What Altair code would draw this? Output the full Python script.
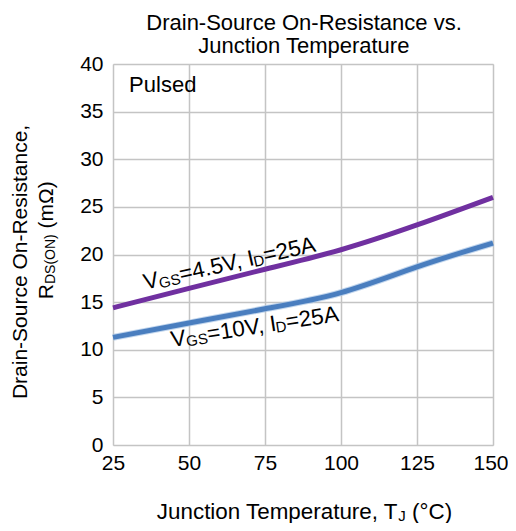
import altair as alt
import pandas as pd

# ---- data ----
temps = [25, 50, 75, 100, 125, 150]
rds_vgs45 = [14.4, 16.45, 18.45, 20.5, 23.1, 26.0]
rds_vgs10 = [11.3, 12.8, 14.3, 16.0, 18.7, 21.2]
series_names = ["VGS=4.5V", "VGS=10V"]
x_ticks = [25, 50, 75, 100, 125, 150]
y_ticks = [0, 5, 10, 15, 20, 25, 30, 35, 40]

FONT = "Liberation Sans"
W, H = 380, 381
PURPLE = "#7030a0"
BLUE = "#4a7ebf"

rows = []
for t, a, b in zip(temps, rds_vgs45, rds_vgs10):
    rows.append({"T": t, "R": a, "s": series_names[0]})
    rows.append({"T": t, "R": b, "s": series_names[1]})
df = pd.DataFrame(rows)

# Arial / Liberation Sans advance widths (per em) and a few kerning pairs
AW = {
    "V": .667, "G": .778, "S": .667, "=": .584, "4": .556, ".": .278, "5": .556,
    ",": .278, " ": .278, "I": .278, "D": .722, "2": .556, "A": .667,
    "1": .556, "0": .556, "R": .722, "(": .333, "O": .778, "N": .722, ")": .333,
    "m": .833, "Ω": .768, "J": .5, "T": .611, "°": .4, "C": .722, "u": .556,
    "n": .556, "c": .5, "t": .278, "i": .222, "o": .556, "e": .556, "p": .556,
    "r": .333, "a": .556, "s": .5, "v": .5, "-": .333, "l": .222, "d": .556,
    "P": .667,
}
KERN = {"Te": -.111, "V,": -.135, "Vo": -.074}


def tw(s, fs):
    w = sum(AW.get(ch, .556) for ch in s)
    w += sum(KERN.get(s[i:i + 2], 0) for i in range(len(s) - 1))
    return w * fs


def rich_text(xenc, yenc, angle, segments, align="left", color="black"):
    """segments: list of (text, fontSize, baselineShift); dx/dy act in the
    text's own (rotated) frame. Leading spaces become a plain offset."""
    total = sum(tw(s, fs) for s, fs, _ in segments)
    cur = -total / 2 if align == "center" else 0.0
    layers = []
    for s, fs, sh in segments:
        body = s.lstrip(" ")
        cur += (len(s) - len(body)) * AW[" "] * fs
        layers.append(
            alt.Chart(pd.DataFrame({"t": [body]}))
            .mark_text(align="left", baseline="alphabetic", font=FONT,
                       fontSize=fs, angle=angle % 360, dx=cur, dy=sh,
                       color=color)
            .encode(x=xenc, y=yenc, text="t:N")
        )
        cur += tw(body, fs)
    return layers


xscale = alt.Scale(domain=[25, 150], nice=False, zero=False)
yscale = alt.Scale(domain=[0, 40], nice=False)

halo = alt.Chart(df[df.s == series_names[1]]).mark_line(
    interpolate="natural", strokeWidth=7, color="#a8c4e6", opacity=0.7
).encode(
    x=alt.X("T:Q", scale=xscale),
    y=alt.Y("R:Q", scale=yscale),
)

last_x = x_ticks[-1]
lines = alt.Chart(df).mark_line(interpolate="natural", strokeWidth=5).encode(
    x=alt.X("T:Q", scale=xscale,
            axis=alt.Axis(values=x_ticks, title=None, grid=True, ticks=False,
                          tickSize=0, domain=False, labelFontSize=21,
                          labelFont=FONT, labelColor="black", labelPadding=7,
                          gridColor="#c4c4c4", gridWidth=1.5,
                          labelFlush=False,
                          labelAlign={"condition": {"test": f"datum.value == {last_x}",
                                                    "value": "right"},
                                      "value": "center"},
                          labelOffset={"condition": {"test": f"datum.value == {last_x}",
                                                     "value": 15},
                                       "value": 0})),
    y=alt.Y("R:Q", scale=yscale,
            axis=alt.Axis(values=y_ticks, title=None, grid=True, ticks=False,
                          tickSize=0, domain=False, labelFontSize=21,
                          labelFont=FONT, labelColor="black", labelPadding=10,
                          gridColor="#c4c4c4", gridWidth=1.5,
                          labelFlush=False)),
    color=alt.Color("s:N", scale=alt.Scale(domain=series_names,
                                           range=[PURPLE, BLUE]), legend=None),
    detail="s:N",
)

SUB = 14
LSUB = 15
layers = [halo, lines]

# "Pulsed"
layers += rich_text(alt.datum(30.3), alt.datum(37.05), 0, [("Pulsed", 22, 0)])

# curve labels
layers += rich_text(alt.datum(35.6), alt.datum(16.3), -12.7,
                    [("V", 22.5, 0), ("GS", LSUB, 2), ("=4.5V, I", 22.5, 0),
                     ("D", LSUB, 2), ("=25A", 22.5, 0)])
layers += rich_text(alt.datum(44.4), alt.datum(10.3), -8.8,
                    [("V", 22.5, 0), ("GS", LSUB, 2), ("=10V, I", 22.5, 0),
                     ("D", LSUB, 2), ("=25A", 22.5, 0)])

# chart title (two lines)
layers += rich_text(alt.value(W / 2 + 1), alt.value(-34), 0,
                    [("Drain-Source On-Resistance vs.", 22, 0)], align="center")
layers += rich_text(alt.value(W / 2 + 1), alt.value(-11), 0,
                    [("Junction Temperature", 22, 0)], align="center")

# y-axis title (two lines, rotated)
layers += rich_text(alt.value(-86), alt.value(198), -90,
                    [("Drain-Source On-Resistance,", 21, 0)], align="center")
layers += rich_text(alt.value(-60), alt.value(176), -90,
                    [("R", 21, 0), ("DS(ON)", SUB, 2), (" (mΩ)", 21, 0)],
                    align="center")

# x-axis title
layers += rich_text(alt.value(191.5), alt.value(455), 0,
                    [("Junction Temperature, T", 22.4, 0), ("J", LSUB, 2),
                     (" (°C)", 22.4, 0)], align="center")

chart = alt.layer(*layers).properties(
    width=W, height=H,
    autosize=alt.AutoSizeParams(type="none"),
    padding={"left": 105, "top": 56, "right": 15, "bottom": 78},
).configure_view(stroke="black", strokeWidth=2).configure(background="white")

chart.save("out.html", embed_options={"renderer": "svg", "actions": False})
